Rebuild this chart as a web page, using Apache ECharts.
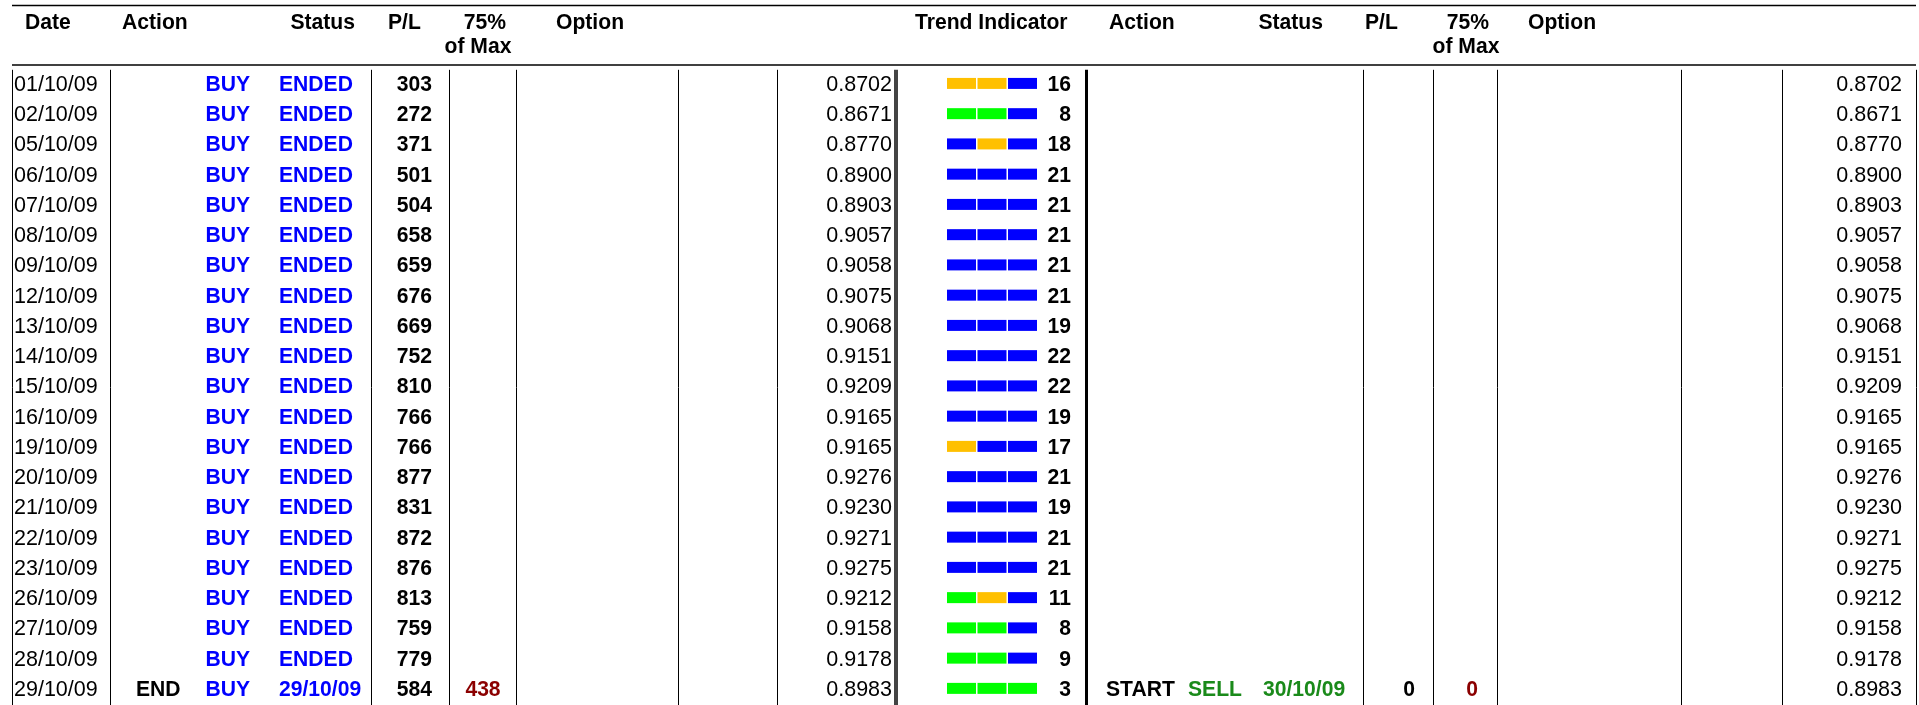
<!DOCTYPE html>
<html>
<head>
<meta charset="utf-8">
<style>
  html, body { margin: 0; padding: 0; background: #fff; }
  #root { width: 1919px; height: 705px; }
</style>
<script src="https://cdn.jsdelivr.net/npm/echarts@6/dist/echarts.min.js"></script>
</head>
<body>
<div id="root"></div>
<script>
// ---- data ----
var dates = ['01/10/09','02/10/09','05/10/09','06/10/09','07/10/09','08/10/09','09/10/09','12/10/09','13/10/09','14/10/09',
  '15/10/09','16/10/09','19/10/09','20/10/09','21/10/09','22/10/09','23/10/09','26/10/09','27/10/09','28/10/09','29/10/09'];
var buyAction = ['','','','','','','','','','','','','','','','','','','','','END'];
var buySide = dates.map(function () { return 'BUY'; });
var buyStatus = ['ENDED','ENDED','ENDED','ENDED','ENDED','ENDED','ENDED','ENDED','ENDED','ENDED',
  'ENDED','ENDED','ENDED','ENDED','ENDED','ENDED','ENDED','ENDED','ENDED','ENDED','29/10/09'];
var buyPL = [303, 272, 371, 501, 504, 658, 659, 676, 669, 752, 810, 766, 766, 877, 831, 872, 876, 813, 759, 779, 584];
var buyMax = [null,null,null,null,null,null,null,null,null,null,null,null,null,null,null,null,null,null,null,null,438];
var rates = [0.8702, 0.8671, 0.8770, 0.8900, 0.8903, 0.9057, 0.9058, 0.9075, 0.9068, 0.9151,
  0.9209, 0.9165, 0.9165, 0.9276, 0.9230, 0.9271, 0.9275, 0.9212, 0.9158, 0.9178, 0.8983];
var trendBars = ['YYB','GGB','BYB','BBB','BBB','BBB','BBB','BBB','BBB','BBB',
  'BBB','BBB','YBB','BBB','BBB','BBB','BBB','GYB','GGB','GGB','GGG'];
var trendScore = [16, 8, 18, 21, 21, 21, 21, 21, 19, 22, 22, 19, 17, 21, 19, 21, 21, 11, 8, 9, 3];
var sellAction = ['','','','','','','','','','','','','','','','','','','','','START'];
var sellSide = ['','','','','','','','','','','','','','','','','','','','','SELL'];
var sellStatus = ['','','','','','','','','','','','','','','','','','','','','30/10/09'];
var sellPL = [null,null,null,null,null,null,null,null,null,null,null,null,null,null,null,null,null,null,null,null,0];
var sellMax = [null,null,null,null,null,null,null,null,null,null,null,null,null,null,null,null,null,null,null,null,0];

// ---- layout / style ----
var FONT = '"Liberation Sans", Arial, Helvetica, sans-serif';
var BOLD_FONT = 'bold 22px ' + FONT;
var REG_FONT = '21.5px ' + FONT;
var BOLD_SX = 0.96;
var BLUE = '#0000ff', GREEN = '#1a8a1a', RED = '#8b0000';
var barColors = { B: '#0000ff', Y: '#ffc000', G: '#00ff00' };

var rootElem = document.getElementById('root');
var chart = echarts.init(rootElem);

function textSeries(values, x, align, color, bold, fmt) {
  var data = [];
  values.forEach(function (v, i) {
    if (v === null || v === '') return;
    data.push([x, i]);
  });
  return {
    type: 'custom',
    silent: true,
    encode: { x: 0, y: 1 },
    data: data,
    renderItem: function (params, api) {
      var row = api.value(1);
      var v = values[row];
      var p = api.coord([api.value(0), row]);
      return {
        type: 'text',
        x: p[0],
        y: p[1],
        scaleX: bold ? BOLD_SX : 1,
        style: {
          text: fmt ? fmt(v) : String(v),
          align: align,
          verticalAlign: 'middle',
          fill: color,
          font: bold ? BOLD_FONT : REG_FONT
        }
      };
    }
  };
}

// vertical rules: [x, width, colour]
var rules = [
  [12.5, 1, '#000'], [110, 1, '#000'], [371, 1, '#000'], [449, 1, '#000'], [516.5, 1, '#000'],
  [678, 1, '#000'], [777, 1, '#000'], [896, 4, '#444'], [1086, 3, '#000'],
  [1363, 1, '#000'], [1433, 1, '#000'], [1497, 1, '#000'], [1681, 1, '#000'], [1782, 1, '#000'], [1916, 1, '#000']
];

var trendSeries = {
  type: 'custom',
  silent: true,
  encode: { x: 0, y: 1 },
  data: trendBars.map(function (c, i) { return [947, i]; }),
  renderItem: function (params, api) {
    var row = api.value(1);
    var code = trendBars[row];
    var children = [];
    for (var k = 0; k < 3; k++) {
      var a = api.coord([api.value(0) + k * 30.5, row]);
      var b = api.coord([api.value(0) + k * 30.5 + 29, row]);
      children.push({
        type: 'rect',
        shape: { x: a[0], y: a[1] - 7, width: b[0] - a[0], height: 11 },
        style: { fill: barColors[code.charAt(k)] }
      });
    }
    return { type: 'group', children: children };
  },
  markLine: {
    silent: true,
    symbol: ['none', 'none'],
    label: { show: false },
    animation: false,
    data: rules.map(function (r) {
      return { xAxis: r[0], lineStyle: { type: 'solid', width: r[1], color: r[2] } };
    })
  }
};

function headText(txt, x, y, align) {
  return {
    type: 'text', x: x, y: y, scaleX: BOLD_SX,
    style: { text: txt, align: align, verticalAlign: 'middle', fill: '#000', font: BOLD_FONT }
  };
}

var option = {
  animation: false,
  backgroundColor: '#fff',
  grid: { left: 0, top: 69.8, width: 1919, height: 638.4, containLabel: false },
  xAxis: { type: 'value', min: 0, max: 1919, show: false },
  yAxis: { type: 'category', data: dates, inverse: true, show: false },
  graphic: [
    { type: 'line', shape: { x1: 12, y1: 5.5, x2: 1916, y2: 5.5 }, style: { stroke: '#000', lineWidth: 1.6 } },
    { type: 'line', shape: { x1: 12, y1: 65, x2: 1916, y2: 65 }, style: { stroke: '#000', lineWidth: 1.6 } },
    headText('Date', 25, 23, 'left'),
    headText('Action', 122, 23, 'left'),
    headText('Status', 355, 23, 'right'),
    headText('P/L', 388, 23, 'left'),
    headText('75%', 485, 23, 'center'),
    headText('of Max', 478, 47, 'center'),
    headText('Option', 556, 23, 'left'),
    headText('Trend Indicator', 915, 23, 'left'),
    headText('Action', 1109, 23, 'left'),
    headText('Status', 1323, 23, 'right'),
    headText('P/L', 1365, 23, 'left'),
    headText('75%', 1468, 23, 'center'),
    headText('of Max', 1466, 47, 'center'),
    headText('Option', 1528, 23, 'left')
  ],
  series: [
    trendSeries,
    textSeries(dates, 14, 'left', '#000', false),
    textSeries(buyAction, 136, 'left', '#000', true),
    textSeries(buySide, 250, 'right', BLUE, true),
    textSeries(buyStatus, 279, 'left', BLUE, true),
    textSeries(buyPL, 432, 'right', '#000', true),
    textSeries(buyMax, 483, 'center', RED, true),
    textSeries(rates, 892, 'right', '#000', false, function (v) { return v.toFixed(4); }),
    textSeries(trendScore, 1071, 'right', '#000', true),
    textSeries(sellAction, 1106, 'left', '#000', true),
    textSeries(sellSide, 1242, 'right', GREEN, true),
    textSeries(sellStatus, 1263, 'left', GREEN, true),
    textSeries(sellPL, 1415, 'right', '#000', true),
    textSeries(sellMax, 1472, 'center', RED, true),
    textSeries(rates, 1902, 'right', '#000', false, function (v) { return v.toFixed(4); })
  ]
};

chart.setOption(option);
</script>
</body>
</html>
